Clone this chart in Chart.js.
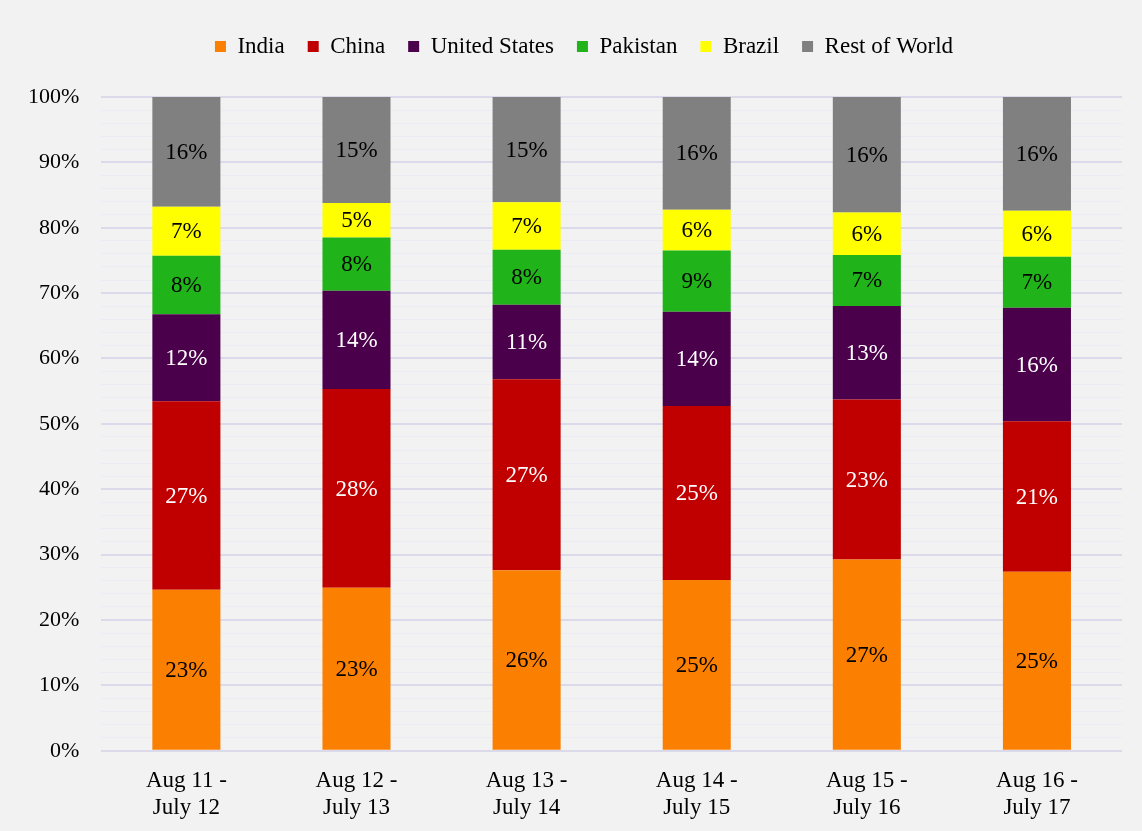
<!DOCTYPE html>
<html>
<head>
<meta charset="utf-8">
<script src="https://cdn.jsdelivr.net/npm/chart.js@4.4.1/dist/chart.umd.min.js"></script>
<style>
  html, body { margin: 0; padding: 0; background: #f2f2f2; }
  #wrap { width: 1142px; height: 831px; }
</style>
</head>
<body>
<div id="wrap"><canvas id="shareChart" width="1142" height="831"></canvas></div>
<script>
// periods on the x axis (two-line labels)
const periods = [
    ['Aug 11 -', 'July 12'],
    ['Aug 12 -', 'July 13'],
    ['Aug 13 -', 'July 14'],
    ['Aug 14 -', 'July 15'],
    ['Aug 15 -', 'July 16'],
    ['Aug 16 -', 'July 17']
];

// share of each country per period (%)
const india        = [22.9, 23.2, 25.9, 24.8, 27.0, 24.9];
const china        = [26.8, 28.3, 27.4, 25.3, 22.6, 20.9];
const unitedStates = [12.4, 14.0, 10.7, 13.7, 13.2, 15.8];
const pakistan     = [8.3, 7.6, 7.9, 8.9, 7.2, 7.1];
const brazil       = [7.0, 4.9, 6.8, 5.9, 6.0, 6.4];
const restOfWorld  = [15.6, 15.1, 15.1, 16.4, 16.3, 15.8];

const yTicks = [0, 10, 20, 30, 40, 50, 60, 70, 80, 90, 100];

const seriesList = [
    { name: 'India',          values: india,        color: '#fb7f00', text: '#000' },
    { name: 'China',          values: china,        color: '#c00000', text: '#fff' },
    { name: 'United States',  values: unitedStates, color: '#4b004c', text: '#fff' },
    { name: 'Pakistan',       values: pakistan,     color: '#20b31a', text: '#000' },
    { name: 'Brazil',         values: brazil,       color: '#ffff00', text: '#000' },
    { name: 'Rest of World',  values: restOfWorld,  color: '#808080', text: '#000' }
];

// 100% stacked: every column is scaled to its own total
const totals = periods.map((p, j) => seriesList.reduce((s, ser) => s + ser.values[j], 0));

const serif = "'Liberation Serif', 'Times New Roman', serif";

// draws the rounded value in the middle of every segment
const segmentLabels = {
    id: 'segmentLabels',
    afterDatasetsDraw(chart) {
        const ctx = chart.ctx;
        ctx.save();
        ctx.font = '23px ' + serif;
        ctx.textAlign = 'center';
        ctx.textBaseline = 'middle';
        chart.data.datasets.forEach((ds, i) => {
            const meta = chart.getDatasetMeta(i);
            meta.data.forEach((bar, j) => {
                const { x, y, base } = bar.getProps(['x', 'y', 'base'], true);
                ctx.fillStyle = ds.labelColor;
                ctx.fillText(Math.round(ds.rawValues[j]) + '%', x, (y + base) / 2 + 1);
            });
        });
        ctx.restore();
    }
};

// extra room between the legend and the plot, legend nudged right
const legendGap = {
    id: 'legendGap',
    beforeInit(chart) {
        const origFit = chart.legend.fit;
        chart.legend.fit = function () {
            origFit.bind(chart.legend)();
            this.height += 29;
        };
    },
    afterLayout(chart) {
        chart.legend.left += 40;
    }
};

new Chart(document.getElementById('shareChart'), {
    type: 'bar',
    data: {
        labels: periods,
        datasets: seriesList.map(ser => ({
            label: ser.name,
            data: ser.values.map((v, j) => v / totals[j] * 100),
            rawValues: ser.values,
            labelColor: ser.text,
            backgroundColor: ser.color,
            borderWidth: 0,
            barPercentage: 0.4,
            categoryPercentage: 1.0
        }))
    },
    options: {
        responsive: false,
        animation: false,
        layout: { padding: { left: 6, right: 20, top: 12, bottom: 0 } },
        plugins: {
            legend: {
                position: 'top',
                labels: {
                    color: '#000',
                    font: { family: serif, size: 23 },
                    boxWidth: 11,
                    boxHeight: 11,
                    padding: 23
                }
            },
            tooltip: { enabled: false }
        },
        scales: {
            x: {
                stacked: true,
                grid: { display: false },
                border: { display: false },
                ticks: {
                    color: '#000',
                    font: { family: serif, size: 23, lineHeight: 1.18 },
                    padding: 9,
                    maxRotation: 0
                }
            },
            y: {
                stacked: true,
                min: 0,
                max: 100,
                border: { display: false },
                grid: {
                    drawTicks: false,
                    color: ctx => (ctx.tick && ctx.tick.value % 10 === 0) ? '#dadaeb' : '#ebebf3',
                    lineWidth: ctx => (ctx.tick && ctx.tick.value % 10 === 0) ? 2 : 1
                },
                ticks: {
                    stepSize: 2,
                    autoSkip: false,
                    color: '#000',
                    font: { family: serif, size: 22 },
                    padding: 22,
                    callback: value => yTicks.includes(value) ? value + '%' : ''
                }
            }
        }
    },
    plugins: [segmentLabels, legendGap]
});
</script>
</body>
</html>
